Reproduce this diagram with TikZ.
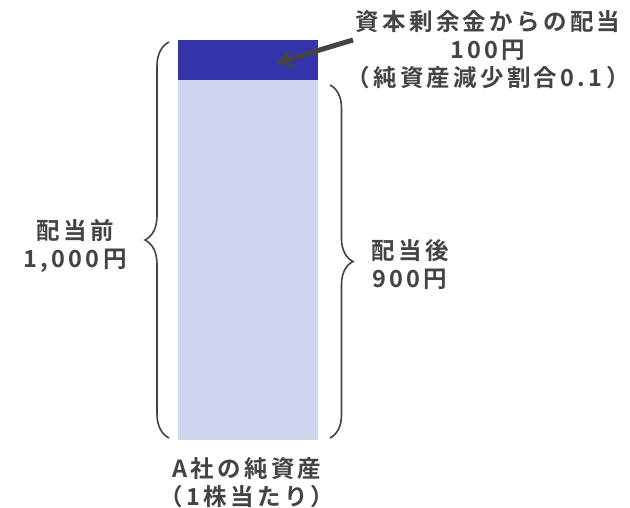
\documentclass[tikz,border=0pt]{standalone}
\usepackage{fontspec}
\newfontfamily\jp[LetterSpace=14,BoldFont={Noto Sans CJK JP Bold}]{Noto Sans CJK JP}
\usetikzlibrary{decorations.pathreplacing,arrows.meta}
\definecolor{dark}{HTML}{3333AA}
\definecolor{light}{HTML}{CFD5EE}
\definecolor{ink}{HTML}{444444}
\tikzset{
  lbl/.style={text=ink,align=center,inner sep=0pt,font=\jp\bfseries\fontsize{23.5}{28}\selectfont},
  bracestyle/.style={draw=ink,line width=1.6pt,decorate,decoration={brace,amplitude=#1}},
}
\begin{document}
\begin{tikzpicture}[x=1pt,y=-1pt]
\useasboundingbox (0,0) rectangle (630,508);
\fill[white] (0,0) rectangle (630,508);
\node[fill=dark,inner sep=0pt,minimum width=140pt,minimum height=40pt,anchor=north west] (dk) at (178,40) {};
\node[fill=light,inner sep=0pt,minimum width=140pt,minimum height=360pt,anchor=north west] (lt) at (178,80) {};
\coordinate (lb1) at (169,438);
\coordinate (lb2) at (169,42);
\coordinate (rb1) at (330,85);
\coordinate (rb2) at (330,438);
\draw[bracestyle=24] (lb1) -- (lb2);
\draw[bracestyle=23] (rb1) -- (rb2);
\node[lbl] (before) at (75,246) {配当前\\1,000円};
\node[lbl] (after) at (410,265) {配当後\\900円};
\node[lbl] (top) at (488,50) {資本剰余金からの配当\\100円\\（純資産減少割合0.1）};
\node[lbl] (bottom) at (247,483) {A社の純資産\\（1株当たり）};
\coordinate (arrs) at (353,40);
\coordinate (arre) at (276,63);
\draw[draw=ink,line width=5pt,-{Stealth[length=17pt,width=19pt]}] (arrs) -- (arre);
\end{tikzpicture}
\end{document}
